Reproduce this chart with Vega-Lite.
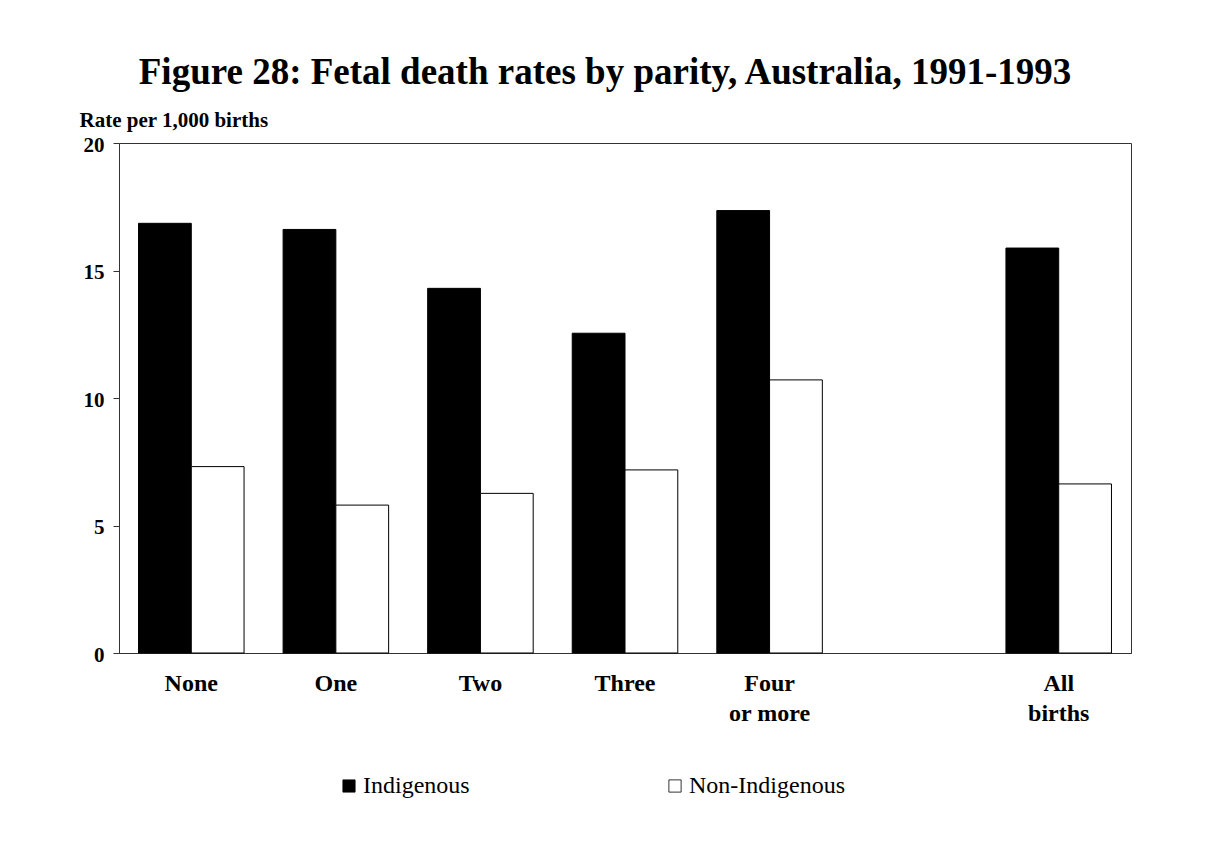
{
  "$schema": "https://vega.github.io/schema/vega-lite/v6.json",
  "width": 1012,
  "height": 510,
  "autosize": {"type": "none"},
  "padding": {"left": 119, "top": 143, "right": 96, "bottom": 204},
  "background": "white",
  "config": {
    "font": "Liberation Serif",
    "view": {"stroke": "#333", "strokeWidth": 1}
  },
  "title": {
    "text": "Figure 28: Fetal death rates by parity, Australia, 1991-1993",
    "fontSize": 37,
    "fontWeight": "bold",
    "font": "Liberation Serif",
    "color": "#000",
    "anchor": "middle",
    "frame": "bounds",
    "offset": 17
  },
  "data": {
    "values": [
      {"parity": "None", "group": "Indigenous", "rate": 16.85},
      {"parity": "None", "group": "Non-Indigenous", "rate": 7.31},
      {"parity": "One", "group": "Indigenous", "rate": 16.61},
      {"parity": "One", "group": "Non-Indigenous", "rate": 5.8},
      {"parity": "Two", "group": "Indigenous", "rate": 14.3},
      {"parity": "Two", "group": "Non-Indigenous", "rate": 6.26},
      {"parity": "Three", "group": "Indigenous", "rate": 12.54},
      {"parity": "Three", "group": "Non-Indigenous", "rate": 7.18},
      {"parity": "Four or more", "group": "Indigenous", "rate": 17.35},
      {"parity": "Four or more", "group": "Non-Indigenous", "rate": 10.71},
      {"parity": "All births", "group": "Indigenous", "rate": 15.88},
      {"parity": "All births", "group": "Non-Indigenous", "rate": 6.63}
    ]
  },
  "mark": {"type": "bar", "stroke": "#000", "strokeWidth": 1},
  "encoding": {
    "x": {
      "field": "parity",
      "type": "nominal",
      "scale": {
        "domain": ["None", "One", "Two", "Three", "Four or more", "gap", "All births"],
        "paddingInner": 0.27,
        "paddingOuter": 0.135
      },
      "axis": {
        "title": null,
        "labelAngle": 0,
        "ticks": false,
        "domainColor": "#333",
        "labelFont": "Liberation Serif",
        "labelFontSize": 24,
        "labelFontWeight": "bold",
        "labelColor": "#000",
        "labelPadding": 18,
        "labelBaseline": "top",
        "labelLineHeight": 30,
        "labelExpr": "datum.value == 'Four or more' ? ['Four', 'or  more'] : datum.value == 'All births' ? ['All', 'births'] : datum.value == 'gap' ? '' : datum.value"
      }
    },
    "xOffset": {
      "field": "group",
      "type": "nominal",
      "scale": {"paddingInner": 0, "paddingOuter": 0}
    },
    "y": {
      "field": "rate",
      "type": "quantitative",
      "scale": {"domain": [0, 20], "nice": false},
      "axis": {
        "values": [0, 5, 10, 15, 20],
        "grid": false,
        "title": "Rate per 1,000 births",
        "titleAngle": 0,
        "titleAlign": "left",
        "titleBaseline": "alphabetic",
        "titleX": -40,
        "titleY": -17,
        "titleFont": "Liberation Serif",
        "titleFontSize": 21,
        "titleFontWeight": "bold",
        "titleColor": "#000",
        "labelFont": "Liberation Serif",
        "labelFontSize": 21,
        "labelFontWeight": "bold",
        "labelColor": "#000",
        "labelOffset": 2,
        "tickSize": 6,
        "tickColor": "#333",
        "domainColor": "#333",
        "labelPadding": 9
      }
    },
    "color": {
      "field": "group",
      "type": "nominal",
      "scale": {"domain": ["Indigenous", "Non-Indigenous"], "range": ["#000000", "#ffffff"]},
      "legend": {
        "title": null,
        "orient": "none",
        "direction": "horizontal",
        "legendX": 218,
        "legendY": 631,
        "symbolType": "square",
        "symbolSize": 150,
        "symbolStrokeColor": "#000",
        "symbolStrokeWidth": 0.8,
        "labelFont": "Liberation Serif",
        "labelFontSize": 24,
        "labelColor": "#000",
        "labelOffset": 2,
        "columnPadding": 193
      }
    }
  }
}
